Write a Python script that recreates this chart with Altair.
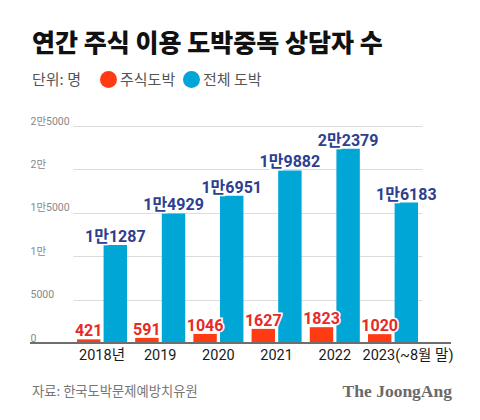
import altair as alt
import pandas as pd

FONT = "Noto Sans CJK KR"
NUMFONT = "Roboto, Noto Sans CJK KR"

title_text = ["연간 주식 이용 도박중독 상담자 수"]
unit_text = ["단위: 명"]
source_text = ["자료: 한국도박문제예방치유원"]
brand_text = ["The JoongAng"]

years = ["2018년", "2019", "2020", "2021", "2022", "2023(~8월 말)"]
stock = [421, 591, 1046, 1627, 1823, 1020]
total = [11287, 14929, 16951, 19882, 22379, 16183]
series_names = ["주식도박", "전체 도박"]
bar_colors = ["#ff3b14", "#00a6d6"]
label_colors = ["#e62a26", "#2e3f8f"]
y_ticks = [0, 5000, 10000, 15000, 20000, 25000]


def fmt(v):
    m, r = divmod(v, 10000)
    if m == 0:
        return str(v)
    return f"{m}만{r}" if r else f"{m}만"


rows = []
for yr, s, t in zip(years, stock, total):
    rows.append({"year": yr, "series": series_names[0], "value": s, "label": fmt(s)})
    rows.append({"year": yr, "series": series_names[1], "value": t, "label": fmt(t)})
df = pd.DataFrame(rows)

x_enc = alt.X(
    "year:N",
    sort=years,
    scale=alt.Scale(range=[42.9, 392.1], paddingInner=0.14, paddingOuter=0.07),
    axis=alt.Axis(
        title=None, domain=False, ticks=False, tickSize=0, labelAngle=0,
        labelFontSize=14.5, labelColor="#1a1a1a", labelPadding=5, labelFont=NUMFONT,
        grid=False,
        labelOffset={"condition": {"test": "datum.value == '" + years[-1] + "'", "value": 15},
                     "value": 0},
    ),
)
xoff_enc = alt.XOffset(
    "series:N", sort=series_names,
    scale=alt.Scale(paddingInner=0.12, paddingOuter=0),
)
y_enc = alt.Y(
    "value:Q",
    scale=alt.Scale(domain=[0, 25000], nice=False),
    axis=alt.Axis(
        title=None, values=y_ticks, domain=False, ticks=False, tickSize=0,
        labelAlign="left", labelBaseline="alphabetic", labelPadding=0,
        labelOffset=-2, labelFontSize=10.5, labelColor="#888", labelFont=NUMFONT,
        gridColor="#dcdcdc", gridWidth=1,
        labelExpr="datum.value >= 10000 ? floor(datum.value/10000) + '만' + (datum.value % 10000 > 0 ? (datum.value % 10000) : '') : datum.value + ''",
    ),
)

base = alt.Chart(df)

bars = base.mark_bar().encode(
    x=x_enc,
    xOffset=xoff_enc,
    y=y_enc,
    color=alt.Color(
        "series:N",
        sort=series_names,
        scale=alt.Scale(domain=series_names, range=bar_colors),
        legend=alt.Legend(
            orient="none", legendX=70, legendY=-55, direction="horizontal",
            title=None, symbolType="circle", symbolSize=289, symbolStrokeWidth=0,
            labelFontSize=15, labelColor="#555", labelFont=FONT,
            columnPadding=7, labelOffset=3, padding=0,
        ),
    ),
)

zero_rule = alt.Chart(pd.DataFrame({"z": [0]})).mark_rule(
    color="#6e6e6e", strokeWidth=2
).encode(y=alt.Y("z:Q"))

label_layers = []
for name, col in zip(series_names, label_colors):
    sub = base.transform_filter(alt.datum.series == name)
    enc = dict(x=alt.X("year:N", sort=years), xOffset=alt.XOffset("series:N", sort=series_names),
               y=alt.Y("value:Q"), text="label:N")
    halo = sub.mark_text(
        baseline="alphabetic", dy=-3, fontSize=16, fontWeight="bold",
        font=NUMFONT, stroke="white", strokeWidth=3, color="white",
    ).encode(**enc)
    txt = sub.mark_text(
        baseline="alphabetic", dy=-3, fontSize=16, fontWeight="bold",
        font=NUMFONT, color=col,
    ).encode(**enc)
    label_layers += [halo, txt]

title = alt.Chart(pd.DataFrame({"t": title_text})).mark_text(
    align="left", baseline="middle", fontSize=25, fontWeight=900,
    color="#111", font=FONT,
).encode(x=alt.value(2), y=alt.value(-82), text="t:N")

unit = alt.Chart(pd.DataFrame({"t": unit_text})).mark_text(
    align="left", baseline="middle", fontSize=15,
    color="#555", font=FONT,
).encode(x=alt.value(2), y=alt.value(-46), text="t:N")

source = alt.Chart(pd.DataFrame({"t": source_text})).mark_text(
    align="left", baseline="middle", fontSize=13.3,
    color="#777", font=FONT,
).encode(x=alt.value(2), y=alt.value(266), text="t:N")

brand = alt.Chart(pd.DataFrame({"t": brand_text})).mark_text(
    align="right", baseline="middle", fontSize=17.5, fontWeight="bold",
    color="#6a6a6a", font="Liberation Serif",
).encode(x=alt.value(422), y=alt.value(266), text="t:N")

chart = alt.layer(
    bars, zero_rule, *label_layers, title, unit, source, brand
).properties(
    width=421, height=217,
    autosize=alt.AutoSizeParams(type="none"),
    padding={"left": 22, "top": 118, "right": 21, "bottom": 69},
).configure_view(stroke=None)

chart.save("out.html", embed_options={"renderer": "svg", "actions": False})
